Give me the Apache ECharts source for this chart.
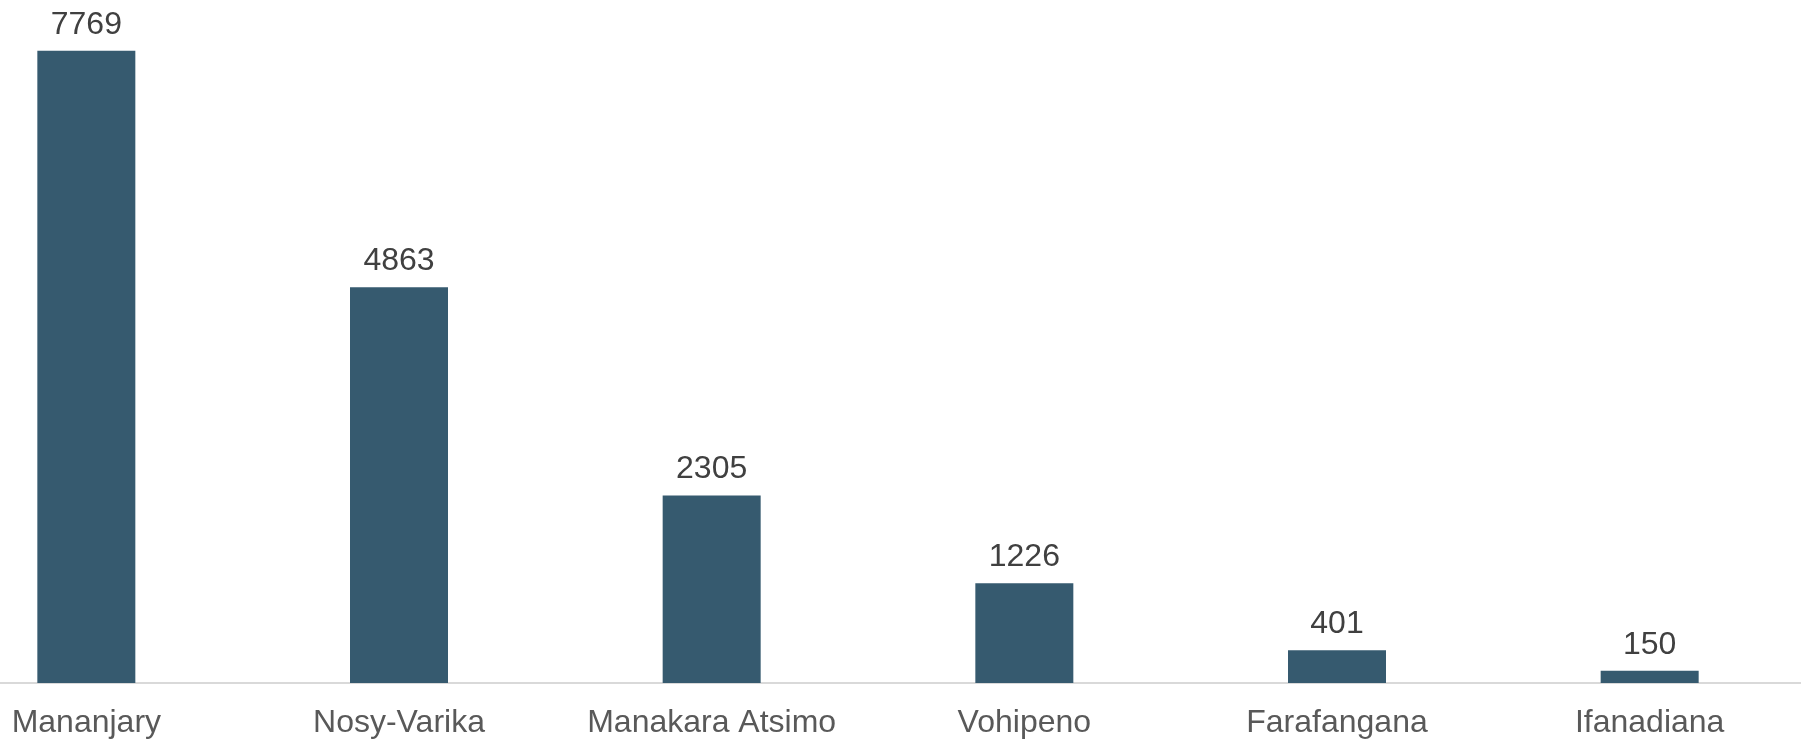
<!DOCTYPE html>
<html>
<head>
<meta charset="utf-8">
<script src="https://cdn.jsdelivr.net/npm/echarts@6/dist/echarts.min.js"></script>
<style>
  html, body { margin: 0; padding: 0; background: #fff; overflow: hidden; }
  /* plot area runs past the left/right edges of the picture */
  #main { width: 1876px; height: 740px; margin-left: -70px; }
</style>
</head>
<body>
<div id="main"></div>
<script>
// data
var districts = ['Mananjary', 'Nosy-Varika', 'Manakara Atsimo', 'Vohipeno', 'Farafangana', 'Ifanadiana'];
var counts = [7769, 4863, 2305, 1226, 401, 150];

var chart = echarts.init(document.getElementById('main'));
var option = {
  animation: false,
  grid: { left: 0, right: 0, top: 32, bottom: 57 },
  xAxis: {
    type: 'category',
    data: districts,
    axisTick: { show: false },
    axisLine: { lineStyle: { color: '#d9d9d9', width: 2 } },
    axisLabel: {
      interval: 0,
      color: '#595959',
      fontFamily: 'Liberation Sans, Arial, sans-serif',
      fontSize: 32,
      margin: 24
    }
  },
  yAxis: {
    type: 'value',
    min: 0,
    max: 8000,
    show: false,
    splitLine: { show: false }
  },
  series: [{
    type: 'bar',
    data: counts,
    barWidth: 98,
    itemStyle: { color: '#365a6f' },
    label: {
      show: true,
      position: 'top',
      distance: 10,
      color: '#404040',
      fontFamily: 'Liberation Sans, Arial, sans-serif',
      fontSize: 32
    }
  }]
};
chart.setOption(option);
</script>
</body>
</html>
